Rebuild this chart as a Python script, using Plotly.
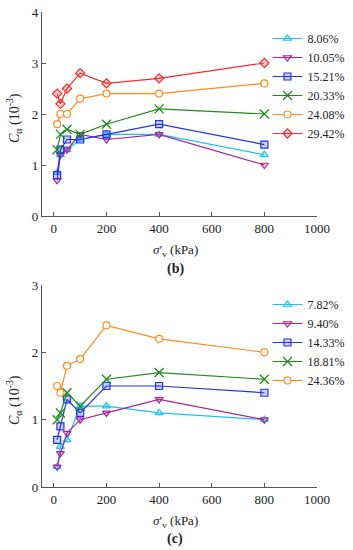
import plotly.graph_objects as go

x_vals = [12.5, 25, 50, 100, 200, 400, 800]

# Panel (b)
b_names = ["8.06%", "10.05%", "15.21%", "20.33%", "24.08%", "29.42%"]
b_806 = [0.85, 1.2, 1.3, 1.5, 1.6, 1.6, 1.2]
b_1005 = [0.7, 1.2, 1.3, 1.6, 1.5, 1.6, 1.0]
b_1521 = [0.8, 1.3, 1.5, 1.5, 1.6, 1.8, 1.4]
b_2033 = [1.3, 1.6, 1.7, 1.6, 1.8, 2.1, 2.0]
b_2408 = [1.8, 2.0, 2.0, 2.3, 2.4, 2.4, 2.6]
b_2942 = [2.4, 2.2, 2.5, 2.8, 2.6, 2.7, 3.0]

# Panel (c)
c_names = ["7.82%", "9.40%", "14.33%", "18.81%", "24.36%"]
c_782 = [0.3, 0.6, 0.7, 1.2, 1.2, 1.1, 1.0]
c_940 = [0.3, 0.5, 0.8, 1.0, 1.1, 1.3, 1.0]
c_1433 = [0.7, 0.9, 1.3, 1.1, 1.5, 1.5, 1.4]
c_1881 = [1.0, 1.1, 1.4, 1.2, 1.6, 1.7, 1.6]
c_2436 = [1.5, 1.4, 1.8, 1.9, 2.4, 2.2, 2.0]

styles = [
    ("#19C3F5", "rgba(25,195,245,0.18)", "triangle-up"),
    ("#A8259B", "rgba(168,37,155,0.18)", "triangle-down"),
    ("#2233F0", "rgba(34,51,240,0.22)", "square"),
    ("#1E8C1E", "#1E8C1E", "x-thin-open"),
    ("#FF8A1C", "rgba(255,255,255,1)", "circle"),
    ("#F52A2A", "rgba(245,42,42,0.2)", "diamond"),
]

FONT = "Liberation Serif"


def marker_for(col, fill, sym):
    if sym == "x-thin-open":
        return dict(symbol=sym, size=9, color=col, line=dict(color=col, width=1.3))
    return dict(symbol=sym, size=7, color=fill, line=dict(color=col, width=1.2))


fig = go.Figure()

b_series = [b_806, b_1005, b_1521, b_2033, b_2408, b_2942]
for name, ys, (col, fill, sym) in zip(b_names, b_series, styles):
    fig.add_trace(go.Scatter(
        x=x_vals, y=ys, name=name, mode="lines+markers",
        line=dict(color=col, width=1.2), marker=marker_for(col, fill, sym),
        xaxis="x", yaxis="y", legend="legend"))

c_series = [c_782, c_940, c_1433, c_1881, c_2436]
for name, ys, (col, fill, sym) in zip(c_names, c_series, styles[:5]):
    fig.add_trace(go.Scatter(
        x=x_vals, y=ys, name=name, mode="lines+markers",
        line=dict(color=col, width=1.2), marker=marker_for(col, fill, sym),
        xaxis="x2", yaxis="y2", legend="legend2"))

H = 550.0
axis_common = dict(showline=True, linecolor="#555", linewidth=1.2,
                   ticks="inside", ticklen=4, tickcolor="#555",
                   showgrid=False, zeroline=False, automargin=False,
                   tickfont=dict(family=FONT, size=13, color="#222"))

fig.update_layout(
    width=353, height=550,
    margin=dict(l=42, r=36, t=0, b=0, autoexpand=False),
    paper_bgcolor="white", plot_bgcolor="white",
    font=dict(family=FONT, size=12, color="#222"),
    xaxis=dict(domain=[0, 1], range=[-45, 1000], tickvals=[0, 200, 400, 600, 800, 1000],
               anchor="y", **axis_common),
    yaxis=dict(domain=[1 - 216 / H, 1 - 12 / H], range=[0, 4], tickvals=[0, 1, 2, 3, 4],
               anchor="x", **axis_common),
    xaxis2=dict(domain=[0, 1], range=[-45, 1000], tickvals=[0, 200, 400, 600, 800, 1000],
                anchor="y2", **axis_common),
    yaxis2=dict(domain=[1 - 487 / H, 1 - 285 / H], range=[0, 3], tickvals=[0, 1, 2, 3],
                anchor="x2", **axis_common),
    legend=dict(x=0.82, y=1 - 24 / H, xanchor="left", yanchor="top",
                bgcolor="rgba(0,0,0,0)", font=dict(family=FONT, size=12, color="#222"),
                itemwidth=30, tracegroupgap=0),
    legend2=dict(x=0.82, y=1 - 290 / H, xanchor="left", yanchor="top",
                 bgcolor="rgba(0,0,0,0)", font=dict(family=FONT, size=12, color="#222"),
                 itemwidth=30, tracegroupgap=0),
    showlegend=True,
)

ann = []
for ytitle, xtitle, lab in [(118, 251, "(b)"), (400, 521, "(c)")]:
    ann.append(dict(text="<i>C</i><sub>α</sub> (10<sup>-3</sup>)", textangle=-90,
                    x=(14 - 42) / 275.0, y=1 - ytitle / H, xref="paper", yref="paper",
                    xanchor="center", yanchor="middle", showarrow=False,
                    font=dict(family=FONT, size=14, color="#222")))
    ann.append(dict(text="<i>σ</i>′<sub>v</sub> (kPa)", x=(175 - 42) / 275.0, y=1 - xtitle / H,
                    xref="paper", yref="paper", xanchor="center", yanchor="middle",
                    showarrow=False, font=dict(family=FONT, size=13, color="#222")))
    ann.append(dict(text="<b>" + lab + "</b>", x=(175 - 42) / 275.0, y=1 - (xtitle + 18) / H,
                    xref="paper", yref="paper", xanchor="center", yanchor="middle",
                    showarrow=False, font=dict(family=FONT, size=14, color="#222")))
fig.update_layout(annotations=ann)

fig.write_html("out.html",
               config={"displayModeBar": False},
               post_script="document.body.style.margin='0';document.body.style.overflow='hidden';")
